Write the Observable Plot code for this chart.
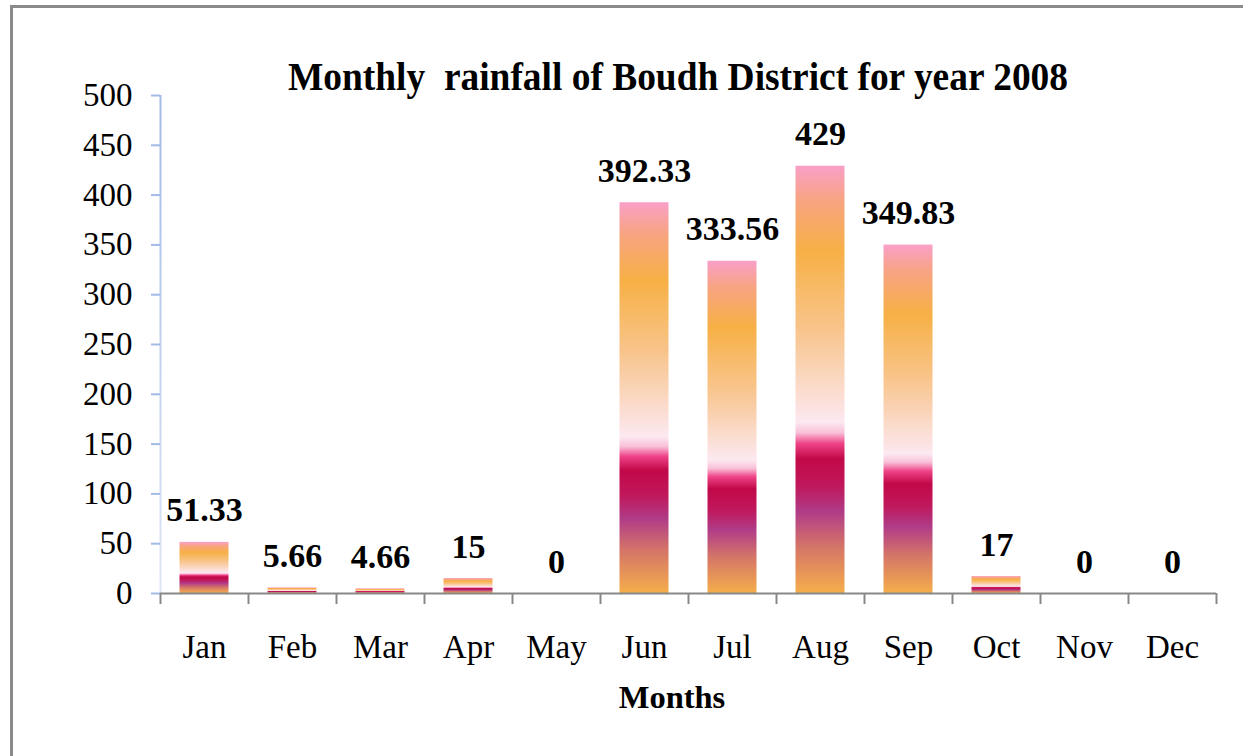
<!DOCTYPE html>
<html>
<head>
<meta charset="utf-8">
<script src="https://cdn.jsdelivr.net/npm/d3@7"></script>
<script src="https://cdn.jsdelivr.net/npm/@observablehq/plot@0.6"></script>
<style>
  html, body { margin: 0; padding: 0; background: #fff; overflow: hidden; }
  #wrap { position: relative; width: 1243px; height: 756px; overflow: hidden; }
  #frame { position: absolute; left: 10px; top: 5px; width: 1400px; height: 900px; border: 3px solid #8a8a8a; box-sizing: border-box; pointer-events: none; }
  #chart { position: absolute; left: 0; top: 0; }
</style>
</head>
<body>
<div id="wrap"><div id="chart"></div><div id="frame"></div></div>
<script>
const months = ["Jan","Feb","Mar","Apr","May","Jun","Jul","Aug","Sep","Oct","Nov","Dec"];
const rainfall = [51.33, 5.66, 4.66, 15, 0, 392.33, 333.56, 429, 349.83, 17, 0, 0];
const valueLabels = ["51.33","5.66","4.66","15","0","392.33","333.56","429","349.83","17","0","0"];
const yTicks = [0,50,100,150,200,250,300,350,400,450,500];
const titleText = "Monthly  rainfall of Boudh District for year 2008";
const xLabel = "Months";

const data = months.map((m, i) => ({month: m, i, value: rainfall[i], label: valueLabels[i]}));

const serif = "'Liberation Serif', 'Times New Roman', serif";

const plot = Plot.plot({
  width: 1243,
  height: 756,
  marginLeft: 160,
  marginRight: 27,
  marginTop: 95,
  marginBottom: 163,
  style: {fontFamily: serif, background: "transparent", overflow: "visible"},
  x: {domain: [0, 12], axis: null},
  y: {domain: [0, 500], axis: null},
  marks: [
    Plot.rectY(data, {x1: d => d.i, x2: d => d.i + 1, y1: 0, y2: "value", insetLeft: 19.5, insetRight: 19.5, fill: "url(#barGrad)"}),
    Plot.ruleX([0], {stroke: "url(#axGrad)", strokeWidth: 2}),
    Plot.axisY({ticks: yTicks, label: null, tickSize: 9, tickPadding: 19, stroke: "url(#axGrad)", strokeWidth: 2, fontSize: 33, fill: "#000", tickFormat: d => String(d), strokeOpacity: 1}),
    Plot.ruleY([0], {stroke: "#888", strokeWidth: 2}),
    Plot.axisX({ticks: d3.range(13), label: null, tickSize: 11, tickFormat: () => "", stroke: "#888", strokeWidth: 2, strokeOpacity: 1}),
    Plot.axisX({ticks: d3.range(12).map(i => i + 0.5), label: null, tickSize: 0, tickPadding: 41, tickFormat: v => months[Math.floor(v)], fontSize: 33, fill: "#000"}),
    Plot.text(data, {x: d => d.i + 0.5, y: "value", text: "label", dy: -21, lineAnchor: "bottom", fontSize: 34, fontWeight: "bold", fill: "#000"})
  ]
});

const svg = d3.select(plot);
const defs = svg.insert("defs", ":first-child");
const bar = defs.append("linearGradient").attr("id", "barGrad").attr("x1", 0).attr("y1", 0).attr("x2", 0).attr("y2", 1);
[
  [0, "#F9A0C8"], [0.08, "#F8A482"], [0.2, "#F7B045"], [0.38, "#F8C48A"],
  [0.6, "#FCE8F0"], [0.625, "#F9C0D8"], [0.65, "#EE4488"], [0.686, "#C20848"],
  [0.75, "#C0185C"], [0.81, "#B03C88"], [0.89, "#D47468"], [1, "#F5AE4A"]
].forEach(([o, c]) => bar.append("stop").attr("offset", o).attr("stop-color", c));
const ax = defs.append("linearGradient").attr("id", "axGrad").attr("gradientUnits", "userSpaceOnUse")
  .attr("x1", 0).attr("y1", 95).attr("x2", 0).attr("y2", 593);
ax.append("stop").attr("offset", 0).attr("stop-color", "#A2BAE6");
ax.append("stop").attr("offset", 1).attr("stop-color", "#DEE6F5");

svg.append("text").text(titleText)
  .attr("x", 678).attr("y", 90).attr("text-anchor", "middle")
  .attr("font-family", serif).attr("font-weight", "bold").attr("font-size", 40)
  .attr("textLength", 780).attr("lengthAdjust", "spacingAndGlyphs")
  .style("white-space", "pre").attr("fill", "#000");

svg.append("text").text(xLabel)
  .attr("x", 672).attr("y", 708).attr("text-anchor", "middle")
  .attr("font-family", serif).attr("font-weight", "bold").attr("font-size", 32.5).attr("fill", "#000");

document.getElementById("chart").appendChild(plot);
</script>
</body>
</html>
